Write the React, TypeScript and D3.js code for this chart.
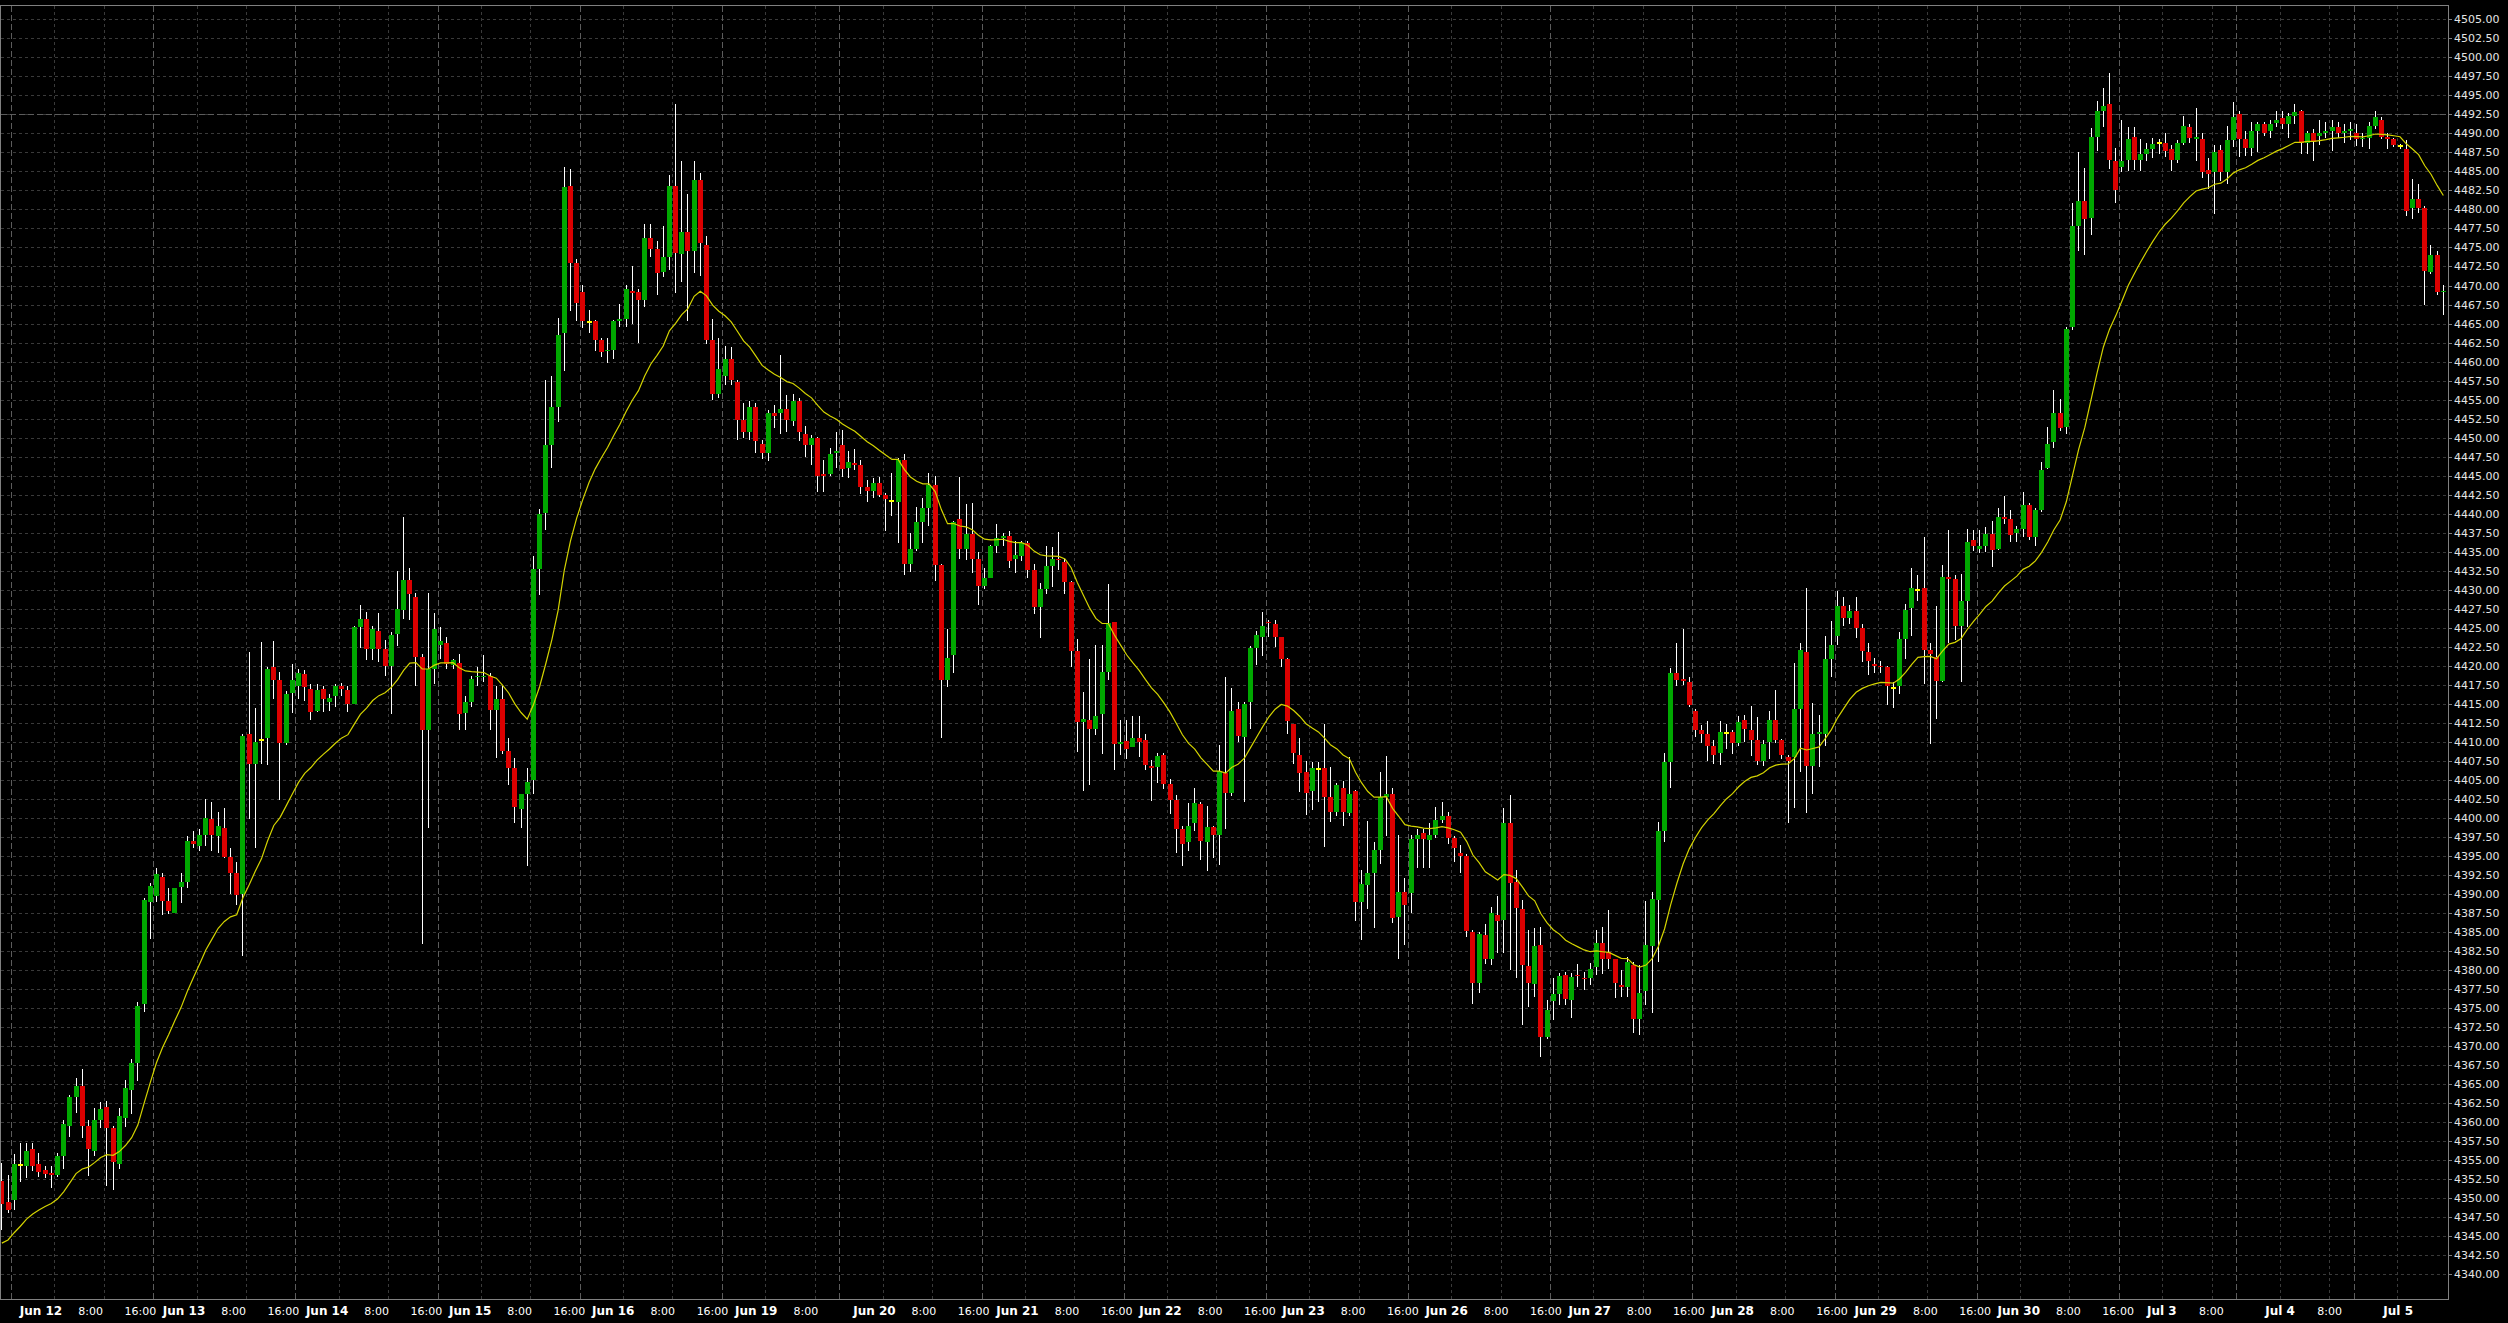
import React from 'react';
import * as d3 from 'd3';

// ---------- data ----------
const opens = [
  4352.3, 4349.5, 4349.76, 4354.4, 4354.3, 4356.5, 4354.5, 4353.7, 4353.3, 4353.05,
  4355.6, 4359.5, 4363.35, 4364.75, 4359.5, 4356.25, 4360.3, 4362.0, 4359.3, 4354.5,
  4360.6, 4364.2, 4367.8, 4375.5, 4388.9, 4389.8, 4392.3, 4389.1, 4387.5, 4390.97,
  4391.6, 4397.0, 4396.3, 4397.8, 4399.9, 4397.6, 4398.7, 4394.9, 4392.8, 4390.0,
  4411.0, 4407.1, 4410.2, 4410.5, 4419.9, 4418.1, 4409.8, 4416.4, 4417.3, 4418.9,
  4417.0, 4414.1, 4417.0, 4415.2, 4416.0, 4417.3, 4416.8, 4415.0, 4425.1, 4426.2,
  4422.2, 4424.6, 4422.2, 4420.0, 4424.2, 4427.3, 4431.3, 4429.1, 4421.1, 4411.5,
  4419.6, 4422.8, 4423.0, 4420.1, 4420.4, 4413.8, 4415.2, 4418.5, 4418.5, 4418.6,
  4414.2, 4415.7, 4408.8, 4406.6, 4401.2, 4403.1, 4405.0, 4432.7, 4440.1, 4449.0,
  4454.0, 4463.8, 4483.1, 4472.9, 4469.1, 4465.2, 4465.3, 4462.9, 4461.35, 4461.5,
  4465.4, 4465.6, 4469.3, 4469.1, 4468.1, 4476.3, 4474.8, 4471.8, 4473.8, 4483.1,
  4474.1, 4477.0, 4474.6, 4483.9, 4475.3, 4462.9, 4455.8, 4458.1, 4460.3, 4457.3,
  4452.3, 4450.7, 4454.0, 4449.2, 4448.0, 4453.2, 4453.2, 4453.8, 4452.2, 4454.8,
  4450.5, 4449.0, 4450.0, 4445.2, 4445.2, 4448.0, 4449.0, 4446.0, 4446.6, 4446.4,
  4443.5, 4443.0, 4444.0, 4442.4, 4441.7, 4441.6, 4447.1, 4433.4, 4435.3, 4438.9,
  4440.7, 4443.8, 4433.3, 4418.2, 4421.4, 4439.3, 4435.4, 4437.3, 4434.0, 4430.5,
  4431.6, 4435.8, 4436.8, 4437.1, 4434.1, 4434.4, 4436.2, 4432.6, 4427.7, 4430.1,
  4433.1, 4434.1, 4433.6, 4431.0, 4421.9, 4412.6, 4412.9, 4411.7, 4413.6, 4419.2,
  4425.8, 4409.7, 4410.1, 4409.3, 4410.5, 4410.3, 4406.8, 4406.7, 4408.3, 4404.4,
  4402.4, 4398.5, 4396.9, 4399.3, 4401.8, 4396.9, 4398.8, 4397.75, 4405.9, 4403.3,
  4414.3, 4410.6, 4415.3, 4422.4, 4423.8, 4425.8, 4425.5, 4423.75, 4420.85, 4412.4,
  4408.3, 4406.1, 4403.6, 4406.4, 4406.5, 4402.8, 4400.8, 4404.0, 4400.6, 4403.6,
  4388.9, 4391.2, 4392.8, 4395.8, 4402.7, 4403.2, 4387.0, 4390.3, 4390.1, 4397.2,
  4398.0, 4397.1, 4397.8, 4399.7, 4400.3, 4397.3, 4395.4, 4395.0, 4385.0, 4378.3,
  4384.6, 4381.5, 4387.2, 4386.6, 4399.4, 4391.6, 4388.0, 4380.5, 4378.2, 4383.3,
  4371.2, 4375.9, 4376.9, 4379.4, 4376.1, 4379.4, 4379.0, 4378.9, 4380.4, 4383.5,
  4382.4, 4381.4, 4378.0, 4377.8, 4380.7, 4373.5, 4377.3, 4383.1, 4389.2, 4398.3,
  4407.3, 4419.0, 4418.3, 4417.9, 4414.1, 4411.6, 4411.1, 4409.4, 4408.6, 4411.2,
  4411.3, 4409.8, 4412.9, 4411.6, 4410.25, 4407.5, 4410.0, 4412.9, 4410.2, 4408.0,
  4408.0, 4414.3, 4421.8, 4406.8, 4411.0, 4411.0, 4420.9, 4423.9, 4427.9, 4426.3,
  4427.2, 4425.0, 4421.8, 4420.3, 4420.0, 4419.9, 4417.1, 4417.4, 4423.5, 4427.6,
  4430.0, 4430.2, 4422.1, 4421.2, 4418.0, 4431.7, 4431.4, 4425.2, 4428.5, 4436.6,
  4435.4, 4435.7, 4437.35, 4435.4, 4439.6, 4439.3, 4437.5, 4438.0, 4441.2, 4436.9,
  4440.5, 4446.0, 4449.4, 4453.2, 4451.4, 4464.6, 4477.8, 4481.1, 4478.9, 4489.5,
  4492.9, 4493.9, 4486.4, 4485.6, 4486.5, 4489.5, 4486.5, 4487.3, 4487.9, 4488.7,
  4488.8, 4487.9, 4486.5, 4488.8, 4490.9, 4489.3, 4489.3, 4485.2, 4484.9, 4487.8,
  4484.9, 4489.1, 4492.5, 4489.2, 4488.1, 4490.3, 4491.3, 4490.3, 4491.4, 4492.0,
  4491.2, 4492.3, 4493.0, 4488.8, 4490.1, 4489.7, 4490.1, 4490.3, 4490.9, 4490.0,
  4490.3, 4490.1, 4489.2, 4489.4, 4491.0, 4491.8, 4489.5, 4489.2, 4488.3, 4488.0,
  4480.2, 4481.4, 4480.2, 4471.8, 4474.0, 4469.1,
];
const highs = [
  4354.6, 4353.1, 4355.8, 4357.2, 4357.2, 4357.2, 4355.9, 4354.3, 4354.2, 4355.9,
  4360.3, 4363.6, 4365.8, 4367.0, 4360.3, 4361.9, 4362.6, 4362.8, 4359.5, 4361.8,
  4365.5, 4368.3, 4375.8, 4389.5, 4391.5, 4393.4, 4392.8, 4390.8, 4390.8, 4392.8,
  4397.6, 4398.3, 4398.6, 4402.5, 4402.1, 4400.8, 4401.3, 4396.0, 4394.2, 4411.0,
  4421.8, 4414.4, 4423.1, 4419.9, 4423.2, 4419.2, 4416.7, 4420.2, 4419.6, 4419.4,
  4417.6, 4417.6, 4417.4, 4416.3, 4417.6, 4417.8, 4417.3, 4425.2, 4428.0, 4427.1,
  4425.2, 4427.0, 4423.4, 4424.4, 4432.5, 4439.6, 4432.8, 4429.6, 4421.5, 4429.6,
  4427.0, 4425.1, 4423.8, 4420.9, 4421.5, 4416.0, 4418.6, 4419.9, 4421.4, 4419.0,
  4417.3, 4417.3, 4410.5, 4407.9, 4403.1, 4406.6, 4434.4, 4440.6, 4457.6, 4458.1,
  4465.7, 4485.6, 4485.3, 4473.5, 4470.1, 4466.8, 4465.5, 4463.1, 4463.1, 4465.5,
  4467.6, 4470.1, 4472.6, 4469.5, 4478.1, 4478.1, 4475.8, 4477.8, 4484.5, 4493.9,
  4486.4, 4482.0, 4486.4, 4484.8, 4476.5, 4465.6, 4463.1, 4462.1, 4461.9, 4457.6,
  4454.6, 4454.8, 4454.6, 4449.7, 4453.6, 4454.3, 4460.8, 4455.6, 4455.8, 4455.2,
  4451.5, 4450.3, 4450.1, 4447.0, 4448.7, 4450.7, 4451.0, 4448.3, 4448.5, 4447.0,
  4444.4, 4444.7, 4444.8, 4442.7, 4445.4, 4447.3, 4447.9, 4437.5, 4440.9, 4442.0,
  4445.4, 4445.0, 4433.4, 4424.8, 4439.1, 4444.8, 4441.3, 4441.4, 4434.9, 4432.8,
  4435.9, 4438.6, 4437.4, 4437.7, 4436.4, 4436.4, 4436.4, 4433.4, 4430.9, 4435.8,
  4435.6, 4437.6, 4434.1, 4431.1, 4423.5, 4416.5, 4420.9, 4422.7, 4422.7, 4430.8,
  4425.8, 4412.9, 4412.9, 4413.4, 4413.4, 4411.1, 4407.6, 4408.6, 4408.6, 4405.1,
  4403.0, 4399.0, 4402.0, 4404.0, 4402.1, 4401.6, 4399.0, 4409.6, 4418.5, 4417.1,
  4415.3, 4415.3, 4422.6, 4424.6, 4427.1, 4426.0, 4426.0, 4423.75, 4421.0, 4412.4,
  4410.5, 4407.5, 4407.4, 4407.4, 4412.4, 4406.7, 4404.6, 4404.8, 4408.0, 4403.7,
  4393.1, 4399.6, 4396.9, 4406.1, 4408.1, 4404.0, 4397.8, 4392.1, 4397.8, 4398.5,
  4398.5, 4399.3, 4401.5, 4402.1, 4400.8, 4397.6, 4396.4, 4395.3, 4385.3, 4385.0,
  4386.0, 4388.3, 4389.7, 4401.3, 4403.0, 4393.2, 4389.2, 4385.3, 4385.5, 4385.7,
  4376.1, 4379.0, 4379.6, 4379.8, 4379.6, 4380.8, 4379.7, 4380.9, 4385.3, 4385.7,
  4387.9, 4381.5, 4380.0, 4381.7, 4381.1, 4380.7, 4389.1, 4390.3, 4399.5, 4408.6,
  4419.7, 4423.0, 4424.8, 4418.5, 4414.3, 4412.2, 4412.7, 4410.2, 4412.8, 4412.4,
  4411.6, 4413.4, 4413.5, 4414.7, 4413.3, 4410.2, 4414.1, 4416.8, 4410.4, 4408.3,
  4420.4, 4423.0, 4430.2, 4415.1, 4413.5, 4423.9, 4425.9, 4429.9, 4429.1, 4428.0,
  4429.1, 4425.5, 4423.0, 4421.0, 4420.6, 4420.0, 4417.9, 4424.5, 4428.1, 4432.9,
  4432.0, 4436.9, 4423.0, 4427.9, 4433.2, 4437.8, 4432.0, 4432.1, 4438.0, 4437.8,
  4437.8, 4438.2, 4439.0, 4440.8, 4442.3, 4440.5, 4438.4, 4442.9, 4441.4, 4440.8,
  4446.8, 4451.4, 4456.3, 4455.1, 4464.6, 4480.9, 4487.6, 4485.5, 4490.7, 4494.2,
  4496.0, 4498.0, 4488.1, 4491.8, 4490.9, 4490.9, 4489.3, 4488.8, 4489.4, 4489.3,
  4490.1, 4488.5, 4489.1, 4492.3, 4491.2, 4493.3, 4490.1, 4486.8, 4488.5, 4488.5,
  4491.0, 4494.1, 4492.9, 4490.3, 4491.5, 4491.5, 4491.5, 4491.8, 4493.0, 4492.9,
  4492.7, 4493.8, 4493.1, 4490.3, 4490.6, 4491.8, 4491.5, 4491.8, 4491.5, 4491.3,
  4491.5, 4491.2, 4490.0, 4491.5, 4492.9, 4492.1, 4490.0, 4489.4, 4488.6, 4489.1,
  4484.0, 4483.3, 4480.5, 4475.3, 4474.6, 4470.1,
];
const lows = [
  4345.8, 4348.1, 4348.5, 4352.2, 4352.6, 4353.6, 4352.8, 4352.6, 4351.4, 4352.8,
  4353.9, 4358.1, 4361.2, 4357.96, 4352.9, 4355.6, 4359.3, 4351.65, 4351.1, 4353.9,
  4359.4, 4361.1, 4365.4, 4374.5, 4384.1, 4389.0, 4387.2, 4387.4, 4387.5, 4388.8,
  4390.8, 4396.0, 4395.7, 4396.3, 4395.7, 4395.4, 4394.7, 4390.0, 4388.6, 4381.8,
  4399.9, 4396.0, 4407.1, 4407.0, 4415.7, 4402.4, 4409.6, 4413.8, 4415.7, 4415.4,
  4412.9, 4413.9, 4413.9, 4414.1, 4414.6, 4416.0, 4413.9, 4415.0, 4422.3, 4420.7,
  4420.7, 4420.5, 4418.7, 4413.6, 4422.6, 4426.2, 4426.0, 4417.4, 4383.4, 4398.7,
  4417.6, 4420.9, 4419.6, 4419.6, 4411.6, 4411.6, 4414.6, 4417.3, 4417.9, 4411.5,
  4407.9, 4408.4, 4404.3, 4399.4, 4398.7, 4393.7, 4403.2, 4429.3, 4437.8, 4446.0,
  4452.0, 4458.7, 4466.7, 4465.3, 4464.4, 4463.7, 4461.4, 4460.6, 4459.8, 4460.3,
  4464.5, 4464.5, 4465.0, 4462.5, 4467.2, 4473.7, 4468.7, 4471.1, 4472.1, 4469.0,
  4470.5, 4465.3, 4471.7, 4471.2, 4462.3, 4455.0, 4455.2, 4456.9, 4456.95, 4449.7,
  4449.9, 4449.7, 4448.0, 4447.2, 4446.9, 4451.3, 4450.5, 4450.8, 4451.5, 4449.5,
  4447.5, 4446.4, 4442.9, 4442.9, 4445.0, 4446.0, 4444.8, 4444.7, 4445.7, 4442.6,
  4441.5, 4442.1, 4442.2, 4437.7, 4439.7, 4436.1, 4432.0, 4432.4, 4435.1, 4436.1,
  4438.4, 4431.1, 4410.5, 4417.2, 4419.0, 4434.0, 4433.9, 4432.2, 4428.0, 4430.1,
  4431.5, 4434.8, 4435.8, 4432.8, 4432.2, 4433.8, 4431.6, 4426.8, 4423.6, 4429.5,
  4430.3, 4432.6, 4429.5, 4419.9, 4408.7, 4403.6, 4404.3, 4410.9, 4408.4, 4418.2,
  4406.3, 4408.3, 4407.7, 4409.3, 4408.0, 4406.3, 4402.2, 4404.6, 4403.8, 4400.5,
  4395.4, 4393.7, 4395.7, 4398.3, 4394.5, 4393.0, 4394.7, 4393.8, 4398.5, 4402.9,
  4410.0, 4402.1, 4411.7, 4420.1, 4421.3, 4423.8, 4422.5, 4419.9, 4411.0, 4407.1,
  4403.4, 4400.4, 4401.0, 4402.1, 4396.2, 4399.5, 4400.2, 4399.0, 4400.2, 4386.5,
  4383.9, 4388.0, 4385.5, 4394.0, 4397.6, 4386.2, 4381.4, 4383.3, 4387.5, 4393.4,
  4393.4, 4393.4, 4397.3, 4399.3, 4396.6, 4394.2, 4392.7, 4384.4, 4375.6, 4377.0,
  4380.8, 4380.7, 4382.2, 4382.2, 4380.0, 4378.9, 4372.8, 4375.2, 4376.5, 4368.6,
  4371.0, 4373.4, 4375.4, 4375.4, 4373.7, 4377.8, 4377.4, 4378.0, 4379.3, 4379.5,
  4380.2, 4376.3, 4376.5, 4376.5, 4371.7, 4371.5, 4375.4, 4374.4, 4381.1, 4396.9,
  4403.9, 4417.3, 4417.5, 4414.6, 4410.6, 4409.9, 4407.5, 4407.1, 4407.0, 4409.1,
  4408.4, 4409.4, 4410.0, 4408.1, 4407.0, 4406.8, 4407.8, 4409.8, 4407.7, 4399.3,
  4401.3, 4406.1, 4400.7, 4403.2, 4406.7, 4409.5, 4418.5, 4422.7, 4425.3, 4425.5,
  4423.6, 4420.5, 4418.8, 4419.0, 4419.0, 4414.8, 4414.5, 4416.3, 4420.9, 4423.9,
  4428.5, 4417.6, 4409.7, 4413.0, 4417.9, 4423.0, 4423.4, 4417.9, 4425.1, 4435.1,
  4434.8, 4435.0, 4433.0, 4435.25, 4438.7, 4436.3, 4436.3, 4436.9, 4436.6, 4435.7,
  4440.2, 4445.9, 4448.6, 4450.9, 4450.5, 4464.2, 4474.6, 4474.0, 4476.7, 4487.7,
  4490.9, 4485.3, 4480.8, 4484.9, 4485.0, 4485.2, 4485.0, 4486.4, 4486.7, 4487.3,
  4486.9, 4485.0, 4486.1, 4488.5, 4488.7, 4486.4, 4484.1, 4482.7, 4479.4, 4483.8,
  4483.4, 4488.2, 4486.9, 4487.0, 4487.0, 4487.6, 4489.7, 4489.4, 4490.9, 4490.6,
  4489.4, 4491.2, 4487.3, 4487.3, 4486.4, 4488.5, 4489.4, 4487.7, 4489.4, 4488.8,
  4489.1, 4488.3, 4488.2, 4487.9, 4490.6, 4489.2, 4487.9, 4488.2, 4487.9, 4479.1,
  4478.8, 4479.5, 4467.4, 4471.5, 4468.7, 4466.1,
];
const closes = [
  4349.3, 4348.45, 4354.5, 4354.4, 4356.2, 4354.3, 4353.5, 4353.2, 4353.0, 4355.55,
  4359.8, 4363.35, 4364.75, 4359.5, 4356.5, 4360.3, 4361.7, 4359.3, 4354.8, 4360.8,
  4364.5, 4367.8, 4375.3, 4389.2, 4391.1, 4392.6, 4389.1, 4387.8, 4390.8, 4391.6,
  4397.0, 4396.6, 4397.7, 4400.0, 4397.7, 4399.0, 4394.9, 4392.8, 4389.9, 4410.8,
  4407.1, 4410.0, 4410.2, 4419.6, 4418.1, 4409.8, 4416.3, 4418.1, 4419.0, 4417.2,
  4413.9, 4416.8, 4415.6, 4415.8, 4417.3, 4416.9, 4415.0, 4425.1, 4426.2, 4422.2,
  4424.9, 4422.2, 4420.0, 4424.0, 4427.5, 4431.3, 4429.4, 4421.1, 4411.5, 4419.6,
  4424.9, 4423.3, 4420.2, 4420.7, 4413.6, 4415.2, 4418.3, 4418.6, 4418.7, 4414.2,
  4415.7, 4408.8, 4406.6, 4401.4, 4403.1, 4404.7, 4432.7, 4439.9, 4449.0, 4454.0,
  4463.5, 4482.9, 4472.9, 4467.7, 4465.4, 4465.2, 4462.9, 4461.3, 4461.5, 4465.3,
  4465.6, 4469.5, 4469.0, 4468.1, 4476.3, 4474.8, 4471.6, 4473.7, 4483.1, 4474.3,
  4477.0, 4474.6, 4483.9, 4475.6, 4462.9, 4455.8, 4459.0, 4460.3, 4457.6, 4452.3,
  4450.7, 4454.0, 4449.5, 4448.0, 4453.2, 4452.9, 4453.8, 4452.3, 4454.8, 4450.7,
  4449.0, 4449.9, 4444.9, 4444.9, 4447.9, 4448.3, 4445.9, 4446.8, 4446.4, 4443.5,
  4443.0, 4444.0, 4442.4, 4441.9, 4441.7, 4447.1, 4433.4, 4435.4, 4438.9, 4440.7,
  4443.8, 4433.3, 4418.1, 4421.05, 4438.9, 4435.3, 4437.3, 4434.1, 4430.5, 4431.6,
  4435.8, 4436.8, 4437.1, 4433.8, 4434.6, 4436.2, 4432.6, 4427.7, 4430.1, 4433.1,
  4434.1, 4433.9, 4431.0, 4421.9, 4412.6, 4413.0, 4411.7, 4413.4, 4419.2, 4425.6,
  4409.7, 4410.0, 4409.1, 4410.5, 4410.0, 4407.0, 4406.6, 4408.2, 4404.4, 4402.3,
  4398.5, 4396.6, 4399.0, 4402.0, 4397.0, 4398.8, 4397.8, 4406.2, 4403.3, 4414.1,
  4410.8, 4415.0, 4422.4, 4424.0, 4425.2, 4425.6, 4423.75, 4420.85, 4412.7, 4408.6,
  4405.9, 4403.3, 4406.5, 4406.4, 4402.8, 4400.8, 4404.3, 4400.8, 4403.2, 4388.9,
  4391.3, 4392.7, 4395.8, 4402.8, 4403.2, 4386.8, 4390.3, 4388.6, 4397.2, 4397.8,
  4397.2, 4397.8, 4399.7, 4400.3, 4397.3, 4396.1, 4395.0, 4385.2, 4378.3, 4384.7,
  4381.5, 4387.5, 4386.4, 4399.3, 4391.4, 4388.1, 4380.7, 4378.3, 4383.1, 4371.2,
  4374.7, 4376.9, 4379.2, 4376.2, 4379.1, 4379.2, 4378.8, 4380.2, 4383.5, 4381.4,
  4381.4, 4378.3, 4377.8, 4381.1, 4373.5, 4377.0, 4383.3, 4389.4, 4398.3, 4407.3,
  4419.0, 4418.2, 4418.0, 4414.8, 4411.6, 4411.1, 4409.4, 4408.3, 4411.3, 4411.2,
  4409.8, 4412.65, 4411.65, 4410.25, 4407.5, 4409.7, 4412.9, 4410.25, 4408.3, 4407.5,
  4414.3, 4422.1, 4406.8, 4411.0, 4411.3, 4420.9, 4422.7, 4427.9, 4426.3, 4427.2,
  4425.0, 4421.9, 4420.6, 4420.0, 4419.8, 4417.4, 4417.1, 4423.5, 4427.3, 4430.2,
  4430.0, 4422.1, 4421.5, 4418.0, 4431.7, 4431.4, 4425.2, 4428.5, 4436.3, 4435.8,
  4435.8, 4437.35, 4435.2, 4439.6, 4439.3, 4437.2, 4438.0, 4441.2, 4436.9, 4440.5,
  4445.7, 4449.2, 4453.2, 4451.3, 4464.3, 4477.8, 4481.1, 4478.8, 4489.5, 4492.9,
  4493.6, 4486.5, 4482.6, 4486.4, 4489.2, 4486.5, 4487.3, 4487.9, 4488.6, 4488.7,
  4487.7, 4486.5, 4488.8, 4491.0, 4489.4, 4489.5, 4484.9, 4484.7, 4487.6, 4484.9,
  4489.1, 4492.2, 4489.3, 4488.1, 4490.3, 4491.3, 4490.1, 4491.3, 4491.8, 4491.2,
  4492.3, 4492.8, 4488.8, 4490.1, 4488.9, 4490.1, 4490.3, 4490.9, 4490.1, 4490.3,
  4490.6, 4489.3, 4489.4, 4491.0, 4492.1, 4489.5, 4489.2, 4488.5, 4488.3, 4479.8,
  4481.4, 4480.2, 4471.9, 4474.0, 4469.2, 4469.3,
];
const maPeriod = 20;
const maStart = 4344.1;

const dayNames = ['', 'Jun 12', 'Jun 13', 'Jun 14', 'Jun 15', 'Jun 16', 'Jun 19', 'Jun 20', 'Jun 21',
  'Jun 22', 'Jun 23', 'Jun 26', 'Jun 27', 'Jun 28', 'Jun 29', 'Jun 30', 'Jul 3', 'Jul 4', 'Jul 5'];
const dayBarCounts = [2, 23, 23, 23, 23, 23, 19, 23, 23, 23, 23, 23, 23, 23, 23, 23, 19, 19, 15];
const hourLabels = ['8:00', '16:00'];
const hourBarOffsets = [7, 15];

const priceTicks = [
  4340, 4342.5, 4345, 4347.5, 4350, 4352.5, 4355, 4357.5, 4360, 4362.5, 4365, 4367.5,
  4370, 4372.5, 4375, 4377.5, 4380, 4382.5, 4385, 4387.5, 4390, 4392.5, 4395, 4397.5,
  4400, 4402.5, 4405, 4407.5, 4410, 4412.5, 4415, 4417.5, 4420, 4422.5, 4425, 4427.5,
  4430, 4432.5, 4435, 4437.5, 4440, 4442.5, 4445, 4447.5, 4450, 4452.5, 4455, 4457.5,
  4460, 4462.5, 4465, 4467.5, 4470, 4472.5, 4475, 4477.5, 4480, 4482.5, 4485, 4487.5,
  4490, 4492.5, 4495, 4497.5, 4500, 4502.5, 4505,
];
const refLevel = 4492.5;

// ---------- chart ----------
const W = 2508;
const H = 1323;
const PLOT_R = 2448;
const PLOT_T = 6;
const PLOT_B = 1299;
const STEP = 6.181;

const GREEN = '#00a800';
const RED = '#dc0000';
const DOJI = '#ffff00';
const GRID = '#3a3a3a';
const SEP = '#5c5c5c';
const AXIS = '#808080';

export default function App() {
  const n = closes.length;
  const x = d3.scaleLinear().domain([0, n - 1]).range([1.84, 1.84 + (n - 1) * STEP]);
  const y = d3.scaleLinear().domain([4340, 4505]).range([1274.3, 19.3]);
  const lx = d3.scaleLinear().domain([2, 381]).range([41, 2398.2]);
  const half = STEP / 2;

  const starts: number[] = [];
  let acc = 0;
  dayBarCounts.forEach((c) => { starts.push(acc); acc += c; });

  const sepLines: number[] = [];
  const hourLines: number[] = [];
  type Lab = { cx: number; text: string; bold: boolean; w: number };
  const labs: Lab[] = [];
  dayNames.forEach((name, d) => {
    const s = starts[d];
    const cnt = dayBarCounts[d];
    if (d > 0) {
      sepLines.push(x(s) - half);
      labs.push({ cx: lx(s), text: name, bold: true, w: name.length * 7.1 });
    }
    hourBarOffsets.forEach((off, k) => {
      if (d > 0 && off < cnt) {
        const b = s + off;
        hourLines.push(x(b) - half);
        labs.push({ cx: lx(b) + 6, text: hourLabels[k], bold: false, w: hourLabels[k].length * 6.4 });
      }
    });
  });
  labs.sort((a, b) => a.cx - b.cx);
  const shownLabs = labs.filter((l, i) => {
    if (l.bold) return true;
    const next = labs[i + 1];
    if (l.cx + l.w / 2 > PLOT_R) return false;
    if (next && l.cx + l.w / 2 > next.cx - next.w / 2 - 2) return false;
    return true;
  });

  // exponential moving average of the closes
  const k = 2 / (maPeriod + 1);
  const ma: number[] = [];
  closes.forEach((c, i) => {
    ma.push(i === 0 ? maStart : ma[i - 1] + k * (c - ma[i - 1]));
  });
  const maPath = d3.line<number>().x((_, i) => x(i)).y((d) => y(d))(ma) || '';

  return (
    <div style={{ width: W, height: H, background: '#000' }}>
      <style>{'body{margin:0;background:#000;overflow:hidden}'}</style>
      <svg width={W} height={H} style={{ display: 'block', background: '#000' }}>
        <defs>
          <clipPath id="plot">
            <rect x={0} y={PLOT_T} width={PLOT_R} height={PLOT_B - PLOT_T} />
          </clipPath>
        </defs>
        <g shapeRendering="crispEdges">
          {priceTicks.map((p) => (
            <line key={'h' + p} x1={1} x2={PLOT_R} y1={Math.round(y(p)) + 0.5} y2={Math.round(y(p)) + 0.5}
              stroke={GRID} strokeDasharray="3 3" />
          ))}
          {hourLines.map((xx, i) => (
            <line key={'vh' + i} x1={Math.round(xx) + 0.5} x2={Math.round(xx) + 0.5} y1={PLOT_T} y2={PLOT_B}
              stroke={GRID} strokeDasharray="3 3" />
          ))}
          {sepLines.map((xx, i) => (
            <line key={'vs' + i} x1={Math.round(xx) + 0.5} x2={Math.round(xx) + 0.5} y1={PLOT_T} y2={PLOT_B}
              stroke={SEP} strokeDasharray="6 3" />
          ))}
          <line x1={1} x2={PLOT_R} y1={Math.round(y(refLevel)) + 0.5} y2={Math.round(y(refLevel)) + 0.5}
            stroke={SEP} strokeDasharray="6 3" />
        </g>
        <g clipPath="url(#plot)" shapeRendering="crispEdges">
          {closes.map((c, i) => {
            const o = opens[i];
            const cx = Math.floor(x(i));
            const yh = y(highs[i]);
            const yl = y(lows[i]);
            const top = y(Math.max(o, c));
            const bot = y(Math.min(o, c));
            const isDoji = o === c;
            const color = c > o ? GREEN : RED;
            return (
              <g key={i}>
                <line x1={cx + 0.5} x2={cx + 0.5} y1={Math.round(yh)} y2={Math.round(yl)} stroke="#ffffff" strokeWidth={1} />
                {isDoji ? (
                  <rect x={cx - 2} y={Math.round(top) - 1} width={5} height={2} fill={DOJI} />
                ) : (
                  <rect x={cx - 2} y={Math.round(top)} width={5} height={Math.max(1, Math.round(bot) - Math.round(top))} fill={color} />
                )}
              </g>
            );
          })}
        </g>
        <path d={maPath} fill="none" stroke="#d4d400" strokeWidth={1.2} clipPath="url(#plot)" />
        <g shapeRendering="crispEdges">
          <rect x={0.5} y={PLOT_T - 0.5} width={PLOT_R} height={PLOT_B - PLOT_T + 0.5} fill="none" stroke={AXIS} />
          {priceTicks.map((p) => (
            <line key={'t' + p} x1={PLOT_R} x2={PLOT_R + 4} y1={Math.round(y(p)) + 0.5} y2={Math.round(y(p)) + 0.5} stroke={AXIS} />
          ))}
        </g>
        <g fontFamily="DejaVu Sans, Verdana, sans-serif" fontSize={11} fill="#e4e4e4">
          {priceTicks.map((p) => (
            <text key={'l' + p} x={PLOT_R + 6} y={y(p) + 4}>{p.toFixed(2)}</text>
          ))}
        </g>
        <g fontFamily="DejaVu Sans, Verdana, sans-serif" fill="#ffffff">
          {shownLabs.map((l, i) => (
            <text key={'x' + i} x={l.cx} y={1315} textAnchor="middle" fontSize={l.bold ? 12 : 11}
              fontWeight={l.bold ? 'bold' : 'normal'}>{l.text}</text>
          ))}
        </g>
      </svg>
    </div>
  );
}
